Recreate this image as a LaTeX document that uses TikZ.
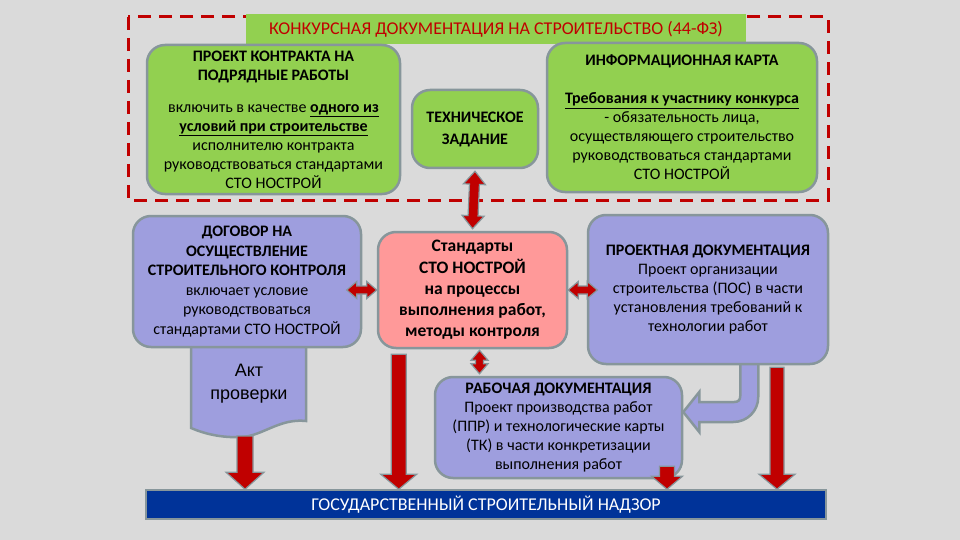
\documentclass[tikz,border=0pt]{standalone}
\usepackage{fontspec}
\setmainfont{Carlito}
\newfontfamily\arialf{Liberation Sans}
\usetikzlibrary{calc}
\definecolor{bgc}{RGB}{218,218,218}
\definecolor{grn}{RGB}{146,208,80}
\definecolor{lav}{RGB}{158,158,222}
\definecolor{pnk}{RGB}{255,153,153}
\definecolor{dred}{RGB}{192,0,0}
\definecolor{bblue}{RGB}{0,51,153}
\definecolor{edgec}{RGB}{135,150,155}
\pgfdeclarelayer{back}\pgfdeclarelayer{mid}\pgfsetlayers{back,mid,main}
\tikzset{
 box/.style={rectangle, rounded corners=18pt, draw=edgec, line width=2.5pt, inner sep=0pt, align=center, font=\fontsize{16}{19}\selectfont},
 gbox/.style={box, fill=grn},
 lbox/.style={box, fill=lav},
 redarr/.style={fill=dred, draw=edgec, line width=1.2pt, line join=miter},
}
\newcommand\sarrow[5]{%
 \coordinate (ah) at ($(#2)!#5pt!(#1)$);
 \filldraw[redarr] ($(#1)!#3pt!90:(#2)$) -- ($(ah)!#3pt!-90:(#1)$) -- ($(ah)!#4pt!-90:(#1)$) -- (#2) -- ($(ah)!#4pt!90:(#1)$) -- ($(ah)!#3pt!90:(#1)$) -- ($(#1)!#3pt!-90:(#2)$) -- cycle;
}
\newcommand\darrow[5]{%
 \coordinate (ha) at ($(#1)!#5pt!(#2)$);
 \coordinate (hb) at ($(#2)!#5pt!(#1)$);
 \filldraw[redarr] (#1) -- ($(ha)!#4pt!90:(#2)$) -- ($(ha)!#3pt!90:(#2)$) -- ($(hb)!#3pt!-90:(#1)$) -- ($(hb)!#4pt!-90:(#1)$) -- (#2) -- ($(hb)!#4pt!90:(#1)$) -- ($(hb)!#3pt!90:(#1)$) -- ($(ha)!#3pt!-90:(#2)$) -- ($(ha)!#4pt!-90:(#2)$) -- cycle;
}
\begin{document}
\begin{tikzpicture}[x=1pt,y=-1pt]
\begin{pgfonlayer}{back}
\fill[bgc] (0,0) rectangle (960,540);
\draw[dred, line width=3pt, dash pattern=on 13pt off 8pt] (128,17) rectangle (828,200);
\end{pgfonlayer}
\useasboundingbox (0,0) rectangle (960,540);

\node[fill=grn, minimum width=500, minimum height=30, inner sep=0pt, text=dred, font=\fontsize{18}{20}\selectfont] (title) at (496,29) {КОНКУРСНАЯ ДОКУМЕНТАЦИЯ НА СТРОИТЕЛЬСТВО (44-ФЗ)};

\node[gbox, minimum width=253, minimum height=149] (pk) at (273.5,119.5) {\textbf{ПРОЕКТ КОНТРАКТА НА}\\\textbf{ПОДРЯДНЫЕ РАБОТЫ}\\[13pt] включить в качестве \underline{\textbf{одного из}}\\\underline{\textbf{условий при строительстве}}\\исполнителю контракта\\руководствоваться стандартами\\СТО НОСТРОЙ};

\node[gbox, minimum width=126, minimum height=78, font=\bfseries\fontsize{16}{22}\selectfont] (tech) at (475,129) {ТЕХНИЧЕСКОЕ\\ЗАДАНИЕ};

\node[gbox, minimum width=270, minimum height=149] (ik) at (682,117.5) {\textbf{ИНФОРМАЦИОННАЯ КАРТА}\\[19pt]\underline{\textbf{Требования к участнику конкурса}}\\- обязательность лица,\\осуществляющего строительство\\руководствоваться стандартами\\СТО НОСТРОЙ};

\node[lbox, minimum width=228, minimum height=131, font=\fontsize{16}{19.6}\selectfont] (dg) at (247,281.5) {\textbf{ДОГОВОР НА}\\\textbf{ОСУЩЕСТВЛЕНИЕ}\\\textbf{СТРОИТЕЛЬНОГО КОНТРОЛЯ}\\включает условие\\руководствоваться\\стандартами СТО НОСТРОЙ};

\node[box, fill=pnk, minimum width=189, minimum height=116, font=\bfseries\fontsize{17.5}{21.25}\selectfont] (std) at (472.5,290) {Стандарты\\СТО НОСТРОЙ\\на процессы\\выполнения работ,\\методы контроля};

\node[lbox, minimum width=240, minimum height=149] (pd) at (708,289.5) {\textbf{ПРОЕКТНАЯ ДОКУМЕНТАЦИЯ}\\Проект организации\\строительства (ПОС) в части\\установления требований к\\технологии работ};

\node[lbox, minimum width=247, minimum height=101] (wd) at (558.5,427.5) {\textbf{РАБОЧАЯ ДОКУМЕНТАЦИЯ}\\Проект производства работ\\(ППР) и технологические карты\\(ТК) в части конкретизации\\выполнения работ};

\node[fill=bblue, draw=edgec, line width=1.5pt, minimum width=680, minimum height=29, inner sep=0pt, text=white, font=\fontsize{18}{20}\selectfont] (bar) at (486,504.5) {ГОСУДАРСТВЕННЫЙ СТРОИТЕЛЬНЫЙ НАДЗОР};

\node[align=center, inner sep=0pt, font=\arialf\fontsize{18}{23}\selectfont] (act) at (249,384) {Акт\\проверки};

\begin{pgfonlayer}{mid}
\filldraw[fill=lav, draw=edgec, line width=2.5pt] (191,340) -- (191,428) .. controls (205,434) and (222,438) .. (242,437) .. controls (262,436) and (280,418) .. (306,421) -- (306,340) -- cycle;
\begin{scope}[shift={(wd.east)}]
\filldraw[fill=lav, draw=edgec, line width=2.5pt, line join=miter] (75,-70) -- (75,-30.5) .. controls (75,-16.5) and (64,-5.5) .. (50,-5.5) -- (16,-5.5) -- (16,4.5) -- (0,-15.5) -- (16,-35.5) -- (16,-25.5) -- (51,-25.5) .. controls (55,-25.5) and (57,-27.5) .. (57,-31.5) -- (57,-70) -- cycle;
\end{scope}
\end{pgfonlayer}

\coordinate (t1) at ($(tech.south)+(0,2)$);
\coordinate (t2) at ($(std.north)+(0,-2)$);
\coordinate (l1) at ($(std.west)+(-30,0)$);
\coordinate (r1) at ($(std.east)+(29,0)$);
\coordinate (b1) at ($(std.south)+(7,1)$);
\coordinate (b2) at ($(b1 |- wd.north)+(0,-2)$);
\coordinate (s1) at ($(std.south west)+(22,5)$);
\coordinate (s2) at (s1 |- bar.north);
\coordinate (a1) at (245,436);
\coordinate (a2) at (a1 |- bar.north);
\coordinate (w1) at ($(wd.south)+(108.5,-13)$);
\coordinate (w2) at (w1 |- bar.north);
\coordinate (p1) at ($(pd.south)+(69,2)$);
\coordinate (p2) at (p1 |- bar.north);

\sarrow{s1}{s2}{7.5}{18}{15}
\sarrow{a1}{a2}{8}{19}{17}
\sarrow{w1}{w2}{7.5}{15.5}{13}
\sarrow{p1}{p2}{7}{18}{15}
\darrow{t1}{t2}{5}{11}{13}
\darrow{l1}{std.west}{4}{8.5}{10}
\darrow{std.east}{r1}{4}{8.5}{10}
\darrow{b1}{b2}{4}{8.5}{10}
\end{tikzpicture}
\end{document}
